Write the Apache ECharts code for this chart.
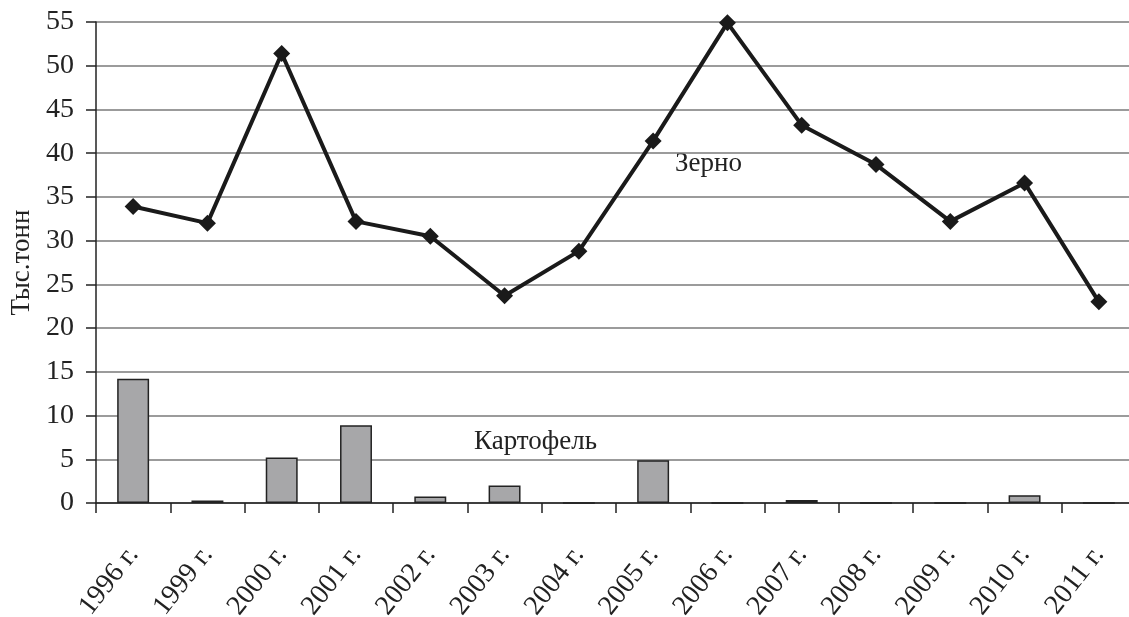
<!DOCTYPE html>
<html><head><meta charset="utf-8">
<script src="https://cdn.jsdelivr.net/npm/echarts@6/dist/echarts.min.js"></script>
<style>html,body{margin:0;padding:0;background:#fff}#c{width:1129px;height:617px}</style>
</head><body><div id="c"></div>
<script>
var categories = ['1996 г.','1999 г.','2000 г.','2001 г.','2002 г.','2003 г.','2004 г.','2005 г.','2006 г.','2007 г.','2008 г.','2009 г.','2010 г.','2011 г.'];
var grain = [33.9, 32.0, 51.4, 32.2, 30.5, 23.7, 28.8, 41.4, 54.9, 43.2, 38.7, 32.2, 36.6, 23.0];
var potato = [14.2, 0.3, 5.2, 8.9, 0.75, 2.0, 0, 4.9, 0, 0.35, 0, 0, 0.9, 0];
var yTicks = [0, 5, 10, 15, 20, 25, 30, 35, 40, 45, 50, 55];

var font = '"Liberation Serif", "DejaVu Serif", serif';
var chart = echarts.init(document.getElementById('c'));
chart.setOption({
  animation: false,
  backgroundColor: '#fff',
  textStyle: {fontFamily: font},
  grid: {left: 96, right: -7, top: 22, bottom: 114, containLabel: false, outerBoundsMode: 'none'},
  xAxis: {
    type: 'category', data: categories, boundaryGap: true,
    axisLine: {lineStyle: {color: '#222', width: 1.5}},
    axisTick: {show: true, length: 10, alignWithLabel: false, lineStyle: {color: '#222', width: 1.5}},
    axisLabel: {rotate: 52, interval: 0, margin: 47, fontSize: 28, color: '#222', fontFamily: font}
  },
  yAxis: {
    type: 'value', min: yTicks[0], max: yTicks[yTicks.length - 1], interval: 5,
    name: 'Тыс.тонн', nameLocation: 'middle', nameGap: 59, nameRotate: 90,
    nameTextStyle: {fontSize: 27, color: '#222', fontFamily: font},
    axisLine: {show: true, lineStyle: {color: '#222', width: 1.5}},
    axisTick: {show: true, length: 10, lineStyle: {color: '#222', width: 1.5}},
    axisLabel: {fontSize: 28, color: '#222', margin: 22, fontFamily: font},
    splitLine: {lineStyle: {color: '#7a7a7a', width: 1.5}}
  },
  series: [
    {
      name: 'Картофель', type: 'bar', data: potato, barWidth: '43%',
      itemStyle: {color: '#a7a7a9', borderColor: '#222', borderWidth: 1.5},
      z: 2
    },
    {
      name: 'Зерно', type: 'line', data: grain,
      symbol: 'diamond', symbolSize: 17, showSymbol: true,
      lineStyle: {color: '#1a1a1a', width: 4},
      itemStyle: {color: '#1a1a1a'},
      z: 3
    }
  ],
  graphic: [
    {type: 'text', left: 675, top: 150, style: {text: 'Зерно', font: '27px ' + font, fill: '#222'}},
    {type: 'text', left: 474, top: 428, style: {text: 'Картофель', font: '27px ' + font, fill: '#222'}}
  ]
});
</script></body></html>
